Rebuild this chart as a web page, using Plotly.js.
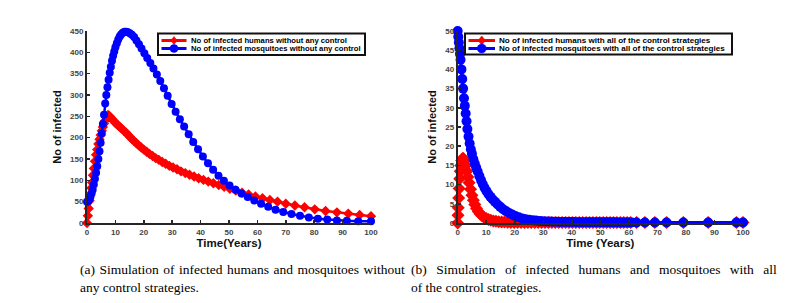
<!DOCTYPE html>
<html><head><meta charset="utf-8">
<script src="https://cdn.plot.ly/plotly-3.0.1.min.js"></script>
<style>html,body{margin:0;padding:0;background:#fff;}#chart{width:793px;height:303px;}</style>
</head><body><div id="chart"></div>
<script>
// ---------- (a) without any control ----------
const timeHumansA = [0,0.3,0.6,0.9,1.2,1.5,1.8,2.1,2.4,2.8,3.2,3.6,4.0,4.4,4.8,5.2,5.6,6.0,6.4,6.9,7.4,7.9,8.4,8.9,9.4,10.0,10.6,11.2,11.8,12.4,13.0,13.7,14.4,15.1,15.8,16.6,17.4,18.2,19.1,20.0,21.0,22.0,23.1,24.2,25.3,26.5,27.7,29.0,30.3,31.7,33.1,34.6,36.1,37.7,39.3,41.0,42.7,44.5,46.4,48.3,50.3,52.4,54.6,56.9,59.3,61.8,64.4,67.1,70.0,73.2,76.6,80.2,84.0,88.0,92.0,96.0,100];
const humansA = [0,17,34,52,68,82,95,112,128,145,160,172,185,196,206,216,225,233,240,248,253,251,247,243,239,235,231,227,224,220,216,212,207,202,197,192,187,182,177,172,167,162,157,152,148,143,139,134,130,126,121,117,113,109,105,101,97,93,89,85,80,76,71,67,62,58,54,50,45,41,37,32,28,25,22,19,16];
const timeMosqA = [0,0.4,0.8,1.2,1.6,2.0,2.4,2.8,3.2,3.6,4.0,4.4,4.8,5.2,5.6,6.0,6.4,6.8,7.2,7.6,8.0,8.4,8.8,9.2,9.6,10.0,10.5,11.0,11.5,12.0,12.6,13.2,13.8,14.4,15.1,15.8,16.6,17.4,18.3,19.2,20.2,21.2,22.3,23.4,24.6,25.8,27.1,28.4,29.8,31.2,32.7,34.2,35.8,37.4,39.1,40.8,42.6,44.4,46.3,48.2,50.2,52.3,54.4,56.6,58.9,61.3,63.8,66.4,69.1,72.0,75.0,78.1,81.3,84.6,88.0,91.5,95.5,100];
const mosqA = [50,51,55,61,69,78,90,104,118,133,150,168,188,210,232,254,280,300,318,336,352,366,380,392,402,412,421,430,437,442,446,448,448,447,445,441,436,428,419,409,398,387,375,362,348,333,316,298,279,261,243,226,208,190,173,156,140,125,111,99,88,78,69,61,53,45,38,31,26,21,17,13,10,8,6,5,4,4];

// ---------- (b) with all of the control strategies ----------
const timeHumansB = [0,0.1,0.2,0.35,0.5,0.7,0.9,1.1,1.4,1.7,2.0,2.4,2.8,3.2,3.6,4.0,4.5,5.0,5.5,6.0,6.6,7.2,7.8,8.5,9.2,10,10.8,11.6,12.5,13.4,14.4,15.4,16.4,17.5,18.6,19.8,21,22.2,23.4,24.6,25.8,27,28.2,29.4,30.6,31.8,33,34.2,35.4,36.6,37.8,39,40.2,41.4,42.6,43.8,45,46.2,47.4,48.6,49.8,51,52.2,53.4,54.6,55.8,57,58.2,59.4,60.6,62.7,65.6,69.1,73.2,79.1,87.8,97.7,100];
const humansB = [0,2,4,6.5,9,11.5,13.5,15,16.3,16.8,16.8,16.2,15,13.5,12,10.5,8.8,7.2,5.9,4.8,3.8,3.0,2.4,1.9,1.5,1.15,0.9,0.7,0.55,0.45,0.35,0.28,0.23,0.19,0.16,0.14,0.12,0.11,0.1,0.1,0.1,0.1,0.1,0.1,0.1,0.1,0.1,0.1,0.1,0.1,0.1,0.1,0.1,0.1,0.1,0.1,0.1,0.1,0.1,0.1,0.1,0.1,0.1,0.1,0.1,0.1,0.1,0.1,0.1,0.1,0.1,0.1,0.1,0.1,0.1,0.1,0.1,0.1];
const timeMosqB = [0,0.2,0.4,0.6,0.8,1.0,1.3,1.6,1.9,2.2,2.5,2.8,3.1,3.4,3.8,4.2,4.6,5.0,5.5,6.0,6.5,7.0,7.6,8.2,8.8,9.4,10.1,10.8,11.5,12.3,13.1,14.0,14.9,15.9,16.9,18.0,19.1,20.2,21.4,22.6,23.8,25,26.2,27.4,28.6,29.8,31,32.2,33.4,34.6,35.8,37,38.2,39.4,40.6,41.8,43,44.2,45.4,46.6,47.8,49,50.2,51.4,52.6,53.8,55,56.2,57.4,58.6,59.8,61,62.7,65.6,69.1,73.2,79.1,87.8,97.7,100];
const mosqB = [50,48.5,47,45.5,44,42.5,40,37.5,35,32.5,30.5,28.5,26.5,24.5,22.5,20.7,19.2,18,16.6,15.4,14.4,13.4,12.2,11.1,10.1,9.2,8.3,7.5,6.8,6.1,5.5,4.8,4.2,3.6,3.1,2.6,2.2,1.8,1.5,1.2,1.0,0.85,0.72,0.62,0.54,0.47,0.42,0.38,0.34,0.31,0.29,0.27,0.25,0.24,0.23,0.22,0.21,0.2,0.2,0.19,0.19,0.18,0.18,0.18,0.17,0.17,0.17,0.16,0.16,0.16,0.16,0.15,0.15,0.15,0.15,0.15,0.15,0.15,0.15,0.15];

const legendA = ['No of infected humans without any control','No of infected mosquitoes without any control'];
const legendB = ['No of infected humans with all of the control strategies','No of infected mosquitoes with all of the control strategies'];
const captionA = ['(a) Simulation of infected humans and mosquitoes without','any control strategies.'];
const captionB = ['(b) Simulation of infected humans and mosquitoes with all','of the control strategies.'];
const yTitle = 'No of infected';
const xTitleA = 'Time(Years)';
const xTitleB = 'Time (Years)';

const RED = '#ff0000', BLUE = '#0000ff';
const W = 793, H = 303;
const px = x => x / W;
const py = y => 1 - y / H;
const SANS = 'Liberation Sans, Arial, sans-serif';
const SERIF = 'Liberation Serif, Times New Roman, serif';

const traces = [
  {x: timeHumansA, y: humansA, xaxis: 'x', yaxis: 'y', mode: 'lines+markers', name: legendA[0],
   line: {color: RED, width: 2.5}, marker: {symbol: 'diamond', size: 8, color: RED}, cliponaxis: false, showlegend: false},
  {x: timeMosqA, y: mosqA, xaxis: 'x', yaxis: 'y', mode: 'lines+markers', name: legendA[1],
   line: {color: BLUE, width: 2.5}, marker: {symbol: 'circle', size: 8, color: BLUE}, cliponaxis: false, showlegend: false},
  {x: timeHumansB, y: humansB, xaxis: 'x2', yaxis: 'y2', mode: 'lines+markers', name: legendB[0],
   line: {color: RED, width: 3}, marker: {symbol: 'diamond', size: 10, color: RED}, cliponaxis: false, showlegend: false},
  {x: timeMosqB, y: mosqB, xaxis: 'x2', yaxis: 'y2', mode: 'lines+markers', name: legendB[1],
   line: {color: BLUE, width: 3}, marker: {symbol: 'circle', size: 10, color: BLUE}, cliponaxis: false, showlegend: false}
];

function axisX(domain, title, anchor) {
  return {domain: domain, anchor: anchor, range: [0, 100], tick0: 0, dtick: 10,
    ticks: 'inside', ticklen: 3, tickwidth: 1.5, tickcolor: '#262626',
    showline: true, linewidth: 2, linecolor: '#262626', showgrid: false, zeroline: false,
    tickfont: {family: SANS, size: 8, color: '#444', weight: 'bold'},
    title: {text: title, font: {family: SANS, size: 11.5, color: '#111', weight: 'bold'}, standoff: 3},
    fixedrange: true};
}
function axisY(range, dtick, anchor) {
  return {domain: [py(223), py(31)], anchor: anchor, range: range, tick0: 0, dtick: dtick,
    ticks: 'inside', ticklen: 3, tickwidth: 1.5, tickcolor: '#262626',
    showline: true, linewidth: 2, linecolor: '#262626', showgrid: false, zeroline: false,
    tickfont: {family: SANS, size: 8, color: '#444', weight: 'bold'},
    title: {text: yTitle, font: {family: SANS, size: 11, color: '#111', weight: 'bold'}, standoff: 6},
    fixedrange: true};
}

const shapes = [];
const annotations = [];
function drawLegend(box, sx0, sx1, tx, rows, labels, msizes, fsize) {
  shapes.push({type: 'rect', xref: 'paper', yref: 'paper', layer: 'above',
    x0: px(box[0]), x1: px(box[2]), y0: py(box[3]), y1: py(box[1]),
    line: {color: '#111', width: 2}, fillcolor: '#fff'});
  const cols = [RED, BLUE];
  for (let i = 0; i < 2; i++) {
    const cy = rows[i];
    shapes.push({type: 'line', xref: 'paper', yref: 'paper', layer: 'above',
      x0: px(sx0), x1: px(sx1), y0: py(cy), y1: py(cy), line: {color: cols[i], width: 3}});
    const cx = (sx0 + sx1) / 2;
    const r = msizes[i] / 2;
    if (i === 0) {
      shapes.push({type: 'path', xref: 'paper', yref: 'paper', layer: 'above',
        path: `M ${px(cx)},${py(cy - r)} L ${px(cx + r * 0.85)},${py(cy)} L ${px(cx)},${py(cy + r)} L ${px(cx - r * 0.85)},${py(cy)} Z`,
        fillcolor: RED, line: {color: RED, width: 0.5}});
    } else {
      shapes.push({type: 'circle', xref: 'paper', yref: 'paper', layer: 'above',
        x0: px(cx - r), x1: px(cx + r), y0: py(cy + r), y1: py(cy - r),
        fillcolor: BLUE, line: {color: BLUE, width: 0.5}});
    }
    annotations.push({xref: 'paper', yref: 'paper', x: px(tx), y: py(cy), xanchor: 'left', yanchor: 'middle',
      text: labels[i], showarrow: false, font: {family: SANS, size: fsize, color: '#000', weight: 'bold'}});
  }
}
drawLegend([158, 33.5, 365, 55], 161.5, 186.5, 189, [40.5, 48.5], legendA, [8, 8], 7.7);
drawLegend([465, 33.5, 732, 54.5], 468.5, 495, 496.5, [40.5, 48.5], legendB, [9, 9], 8.1);

// justified first caption line: widen the word gaps
function caption(lines, x, ys, gap) {
  lines.forEach((t, i) => annotations.push({xref: 'paper', yref: 'paper', x: px(x), y: py(ys[i]),
    xanchor: 'left', yanchor: 'middle', text: i === 0 ? t.split(' ').join(gap) : t, showarrow: false,
    font: {family: SERIF, size: 13.5, color: '#000'}}));
}
caption(captionA, 77.5, [269, 287], ' \u200A');
caption(captionB, 409, [269, 287], '\u2002\u2009');

const layout = {
  width: W, height: H, margin: {l: 0, r: 0, t: 0, b: 0},
  paper_bgcolor: '#fff', plot_bgcolor: '#fff', showlegend: false,
  font: {family: SANS},
  xaxis: axisX([px(87), px(371)], xTitleA, 'y'),
  yaxis: axisY([0, 450], 50, 'x'),
  xaxis2: axisX([px(457.7), px(743)], xTitleB, 'y2'),
  yaxis2: axisY([0, 50], 5, 'x2'),
  shapes: shapes, annotations: annotations
};

Plotly.newPlot('chart', traces, layout, {displayModeBar: false, staticPlot: true});
</script></body></html>
